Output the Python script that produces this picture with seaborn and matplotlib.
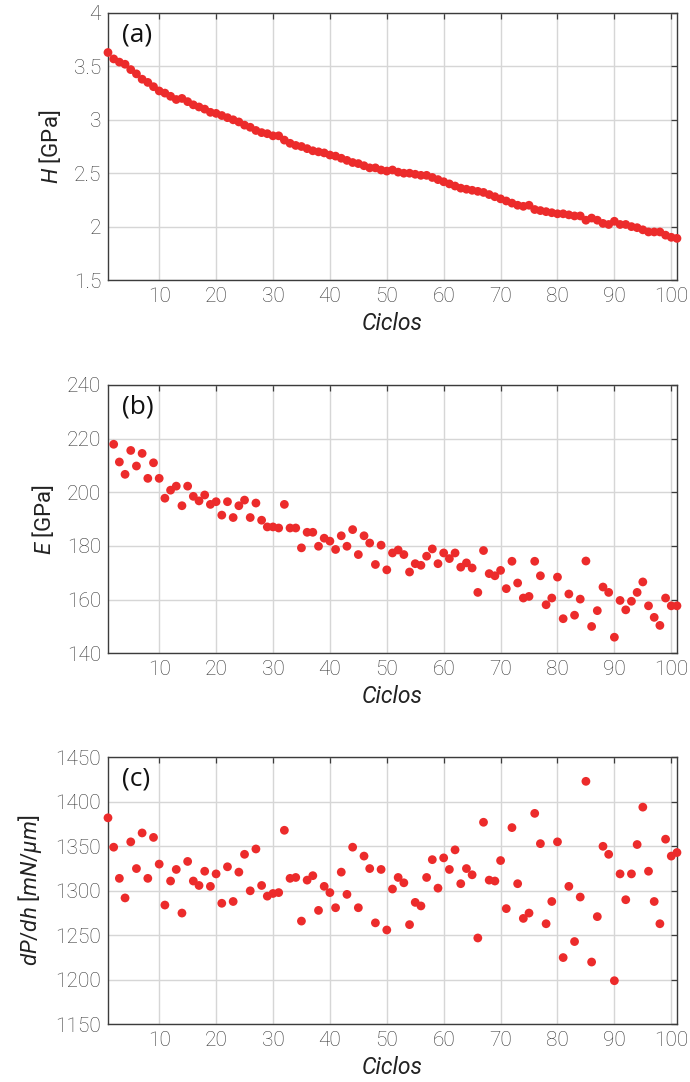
import matplotlib
matplotlib.use('Agg')
import matplotlib.pyplot as plt
import seaborn as sns
import pandas as pd

# dados
ciclos = list(range(1, 102))
dureza = [3.63, 3.57, 3.54, 3.52, 3.47, 3.43, 3.38, 3.35, 3.31, 3.27,
          3.25, 3.22, 3.19, 3.20, 3.17, 3.14, 3.12, 3.10, 3.07, 3.06,
          3.04, 3.02, 3.00, 2.98, 2.95, 2.93, 2.90, 2.88, 2.87, 2.85,
          2.85, 2.81, 2.78, 2.76, 2.75, 2.73, 2.71, 2.70, 2.69, 2.67,
          2.66, 2.64, 2.62, 2.60, 2.59, 2.57, 2.55, 2.55, 2.53, 2.52,
          2.53, 2.51, 2.50, 2.50, 2.49, 2.48, 2.48, 2.46, 2.44, 2.42,
          2.40, 2.38, 2.36, 2.35, 2.34, 2.33, 2.32, 2.30, 2.28, 2.26,
          2.24, 2.22, 2.20, 2.19, 2.20, 2.16, 2.15, 2.14, 2.13, 2.12,
          2.12, 2.11, 2.10, 2.10, 2.06, 2.08, 2.06, 2.03, 2.02, 2.05,
          2.02, 2.02, 2.00, 1.99, 1.97, 1.95, 1.95, 1.95, 1.92, 1.90, 1.89]

ciclos_e = list(range(2, 102))
modulo = [217.9, 211.3, 206.7, 215.6, 209.8, 214.5, 205.2, 211.0, 205.2,
          197.8, 200.8, 202.3, 195.0, 202.3, 198.5, 196.8, 199.0, 195.5, 196.5,
          191.5, 196.5, 190.6, 195.0, 197.1, 190.6, 196.0, 189.6, 187.1, 187.1,
          186.7, 195.5, 186.7, 186.7, 179.3, 185.1, 185.1, 179.9, 182.9, 181.8,
          178.7, 183.8, 179.9, 186.1, 176.8, 183.8, 181.1, 173.1, 180.3, 171.1,
          177.4, 178.5, 176.8, 170.3, 173.4, 172.8, 176.2, 178.9, 173.4, 177.4,
          175.3, 177.4, 172.1, 173.7, 171.8, 162.7, 178.3, 169.7, 168.9, 170.9,
          164.1, 174.3, 166.2, 160.6, 161.2, 174.3, 168.9, 158.1, 160.6, 168.4,
          152.9, 162.1, 154.2, 160.2, 174.4, 150.0, 155.9, 164.7, 162.7, 146.0,
          159.7, 156.2, 159.4, 162.7, 166.6, 157.7, 153.4, 150.4, 160.6, 157.7, 157.7]

rigidez = [1382, 1349, 1314, 1292, 1355, 1325, 1365, 1314, 1360, 1330,
           1284, 1311, 1324, 1275, 1333, 1311, 1306, 1322, 1305, 1319,
           1286, 1327, 1288, 1321, 1341, 1300, 1347, 1306, 1294, 1297,
           1298, 1368, 1314, 1315, 1266, 1312, 1317, 1278, 1305, 1298,
           1281, 1321, 1296, 1349, 1281, 1339, 1325, 1264, 1324, 1256,
           1302, 1315, 1309, 1262, 1287, 1283, 1315, 1335, 1303, 1337,
           1324, 1346, 1308, 1325, 1318, 1247, 1377, 1312, 1311, 1334,
           1280, 1371, 1308, 1269, 1275, 1387, 1353, 1263, 1288, 1355,
           1225, 1305, 1243, 1293, 1423, 1220, 1271, 1350, 1341, 1199,
           1319, 1290, 1319, 1352, 1394, 1322, 1288, 1263, 1358, 1339, 1343]

vermelho = '#EC2B2B'

sns.set_style('white')
plt.rcParams['font.family'] = ['Roboto', 'DejaVu Sans']
plt.rcParams['mathtext.fontset'] = 'custom'
plt.rcParams['mathtext.it'] = 'Roboto:italic'
plt.rcParams['mathtext.rm'] = 'Roboto'


def painel(ax, x, y, ylim, yticks, yticklabels, ylabel, letra):
    df = pd.DataFrame({'x': x, 'y': y})
    sns.scatterplot(data=df, x='x', y='y', ax=ax, color=vermelho, s=40,
                    edgecolor='none', zorder=3, clip_on=False)
    ax.set_xlim(1, 101)
    ax.set_ylim(*ylim)
    ax.set_xticks(range(10, 101, 10))
    ax.set_yticks(yticks)
    ax.set_yticklabels(yticklabels)
    ax.grid(True, color='#d6d6d6', linewidth=1.0)
    ax.set_axisbelow(True)
    for sp in ax.spines.values():
        sp.set_color('#3c3c3c')
        sp.set_linewidth(1.0)
    ax.tick_params(direction='in', length=4, width=0.9, color='#3c3c3c',
                   top=True, right=True, labelsize=15, labelcolor='#383838', pad=5)
    for lb in ax.get_xticklabels() + ax.get_yticklabels():
        lb.set_fontweight('light')
    ax.set_xlabel('Ciclos', fontsize=16.5, fontstyle='italic', color='#222222', labelpad=4)
    ax.set_ylabel(ylabel, fontsize=16, color='#222222', labelpad=8)
    ax.text(0.025, 0.965, letra, transform=ax.transAxes, fontsize=19,
            family=['Open Sans', 'DejaVu Sans'], color='#111111', va='top', ha='left')


fig = plt.figure(figsize=(6.9, 10.82), dpi=100)
ax_a = fig.add_axes([0.1565, 0.7412, 0.8246, 0.2468])
ax_b = fig.add_axes([0.1565, 0.3962, 0.8246, 0.2480])
ax_c = fig.add_axes([0.1565, 0.0533, 0.8246, 0.2468])

painel(ax_a, ciclos, dureza, (1.5, 4), [1.5, 2, 2.5, 3, 3.5, 4],
       ['1.5', '2', '2.5', '3', '3.5', '4'], r'$H$ [GPa]', '(a)')
painel(ax_b, ciclos_e, modulo, (140, 240), list(range(140, 241, 20)),
       [str(v) for v in range(140, 241, 20)], r'$E$ [GPa]', '(b)')
painel(ax_c, ciclos, rigidez, (1150, 1450), list(range(1150, 1451, 50)),
       [str(v) for v in range(1150, 1451, 50)], r'$dP/dh$ [$mN/\mu m$]', '(c)')

fig.savefig('out.png', dpi=100, facecolor='white')
